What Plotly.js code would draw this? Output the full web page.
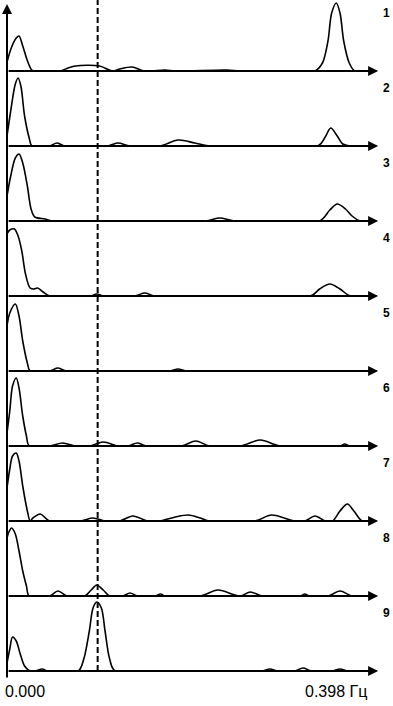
<!DOCTYPE html>
<html><head><meta charset="utf-8">
<script src="https://cdn.plot.ly/plotly-3.0.1.min.js"></script>
<style>html,body{margin:0;padding:0;background:#fff}#chart{width:393px;height:706px}</style>
</head><body><div id="chart"></div>
<script>
// Panel labels (top to bottom)
const panelLabels = ['1','2','3','4','5','6','7','8','9'];

// Spectra: frequency (Hz) and power (relative units) for each panel
const f1 = [0,0.005,0.010,0.013,0.017,0.023,0.028,0.057,0.066,0.074,0.100,0.114,0.122,0.135,0.149,0.171,0.182,0.238,0.252,0.333,0.341,0.347,0.351,0.356,0.360,0.364,0.370,0.376,0.4];
const p1 = [9,24,33,35,25,8,0,0,3,5,5,0,2,4,0,1,0,1,0,0,8,30,58,68,58,30,8,0,0];

const f2 = [0,0.004,0.009,0.012,0.015,0.019,0.024,0.027,0.046,0.054,0.062,0.109,0.120,0.133,0.165,0.185,0.203,0.219,0.336,0.344,0.350,0.357,0.363,0.371,0.4];
const p2 = [10,35,62,68,60,30,8,0,0,3,0,0,3,0,0,6,3,0,0,9,18,10,2,0,0];

const f3 = [0,0.004,0.009,0.013,0.017,0.022,0.026,0.030,0.041,0.049,0.214,0.230,0.246,0.338,0.349,0.357,0.366,0.373,0.382,0.4];
const p3 = [25,45,63,67,58,35,12,4,2,0,0,3,0,0,11,17,12,5,0,0];

const f4 = [0,0.003,0.008,0.012,0.016,0.020,0.025,0.029,0.033,0.039,0.046,0.090,0.097,0.105,0.138,0.149,0.160,0.328,0.338,0.349,0.360,0.371,0.4];
const p4 = [62,66,67,60,45,22,8,7,8,4,0,0,2,0,0,3,0,0,7,12,7,0,0];

const f5 = [0,0.003,0.009,0.013,0.017,0.022,0.025,0.046,0.055,0.064,0.176,0.185,0.194,0.4];
const p5 = [45,58,67,55,30,8,0,0,3,0,0,2,0,0];

const f6 = [0,0.003,0.006,0.010,0.013,0.017,0.021,0.024,0.046,0.060,0.074,0.090,0.104,0.120,0.131,0.141,0.150,0.189,0.204,0.219,0.252,0.274,0.295,0.360,0.365,0.371,0.4];
const p6 = [13,35,60,68,58,30,10,0,0,3,0,0,4,0,0,3,0,0,5,0,0,6,0,0,2,0,0];

const f7 = [0,0.003,0.006,0.010,0.013,0.017,0.022,0.025,0.028,0.036,0.046,0.079,0.093,0.106,0.122,0.136,0.152,0.165,0.182,0.196,0.209,0.219,0.268,0.286,0.311,0.322,0.333,0.344,0.352,0.360,0.368,0.375,0.384,0.4];
const p7 = [33,52,65,68,60,35,10,0,3,7,0,0,3,0,0,5,0,0,4,6,3,0,0,6,0,0,5,0,0,10,17,10,0,0];

const f8 = [0,0.002,0.005,0.009,0.013,0.017,0.021,0.024,0.046,0.055,0.065,0.084,0.091,0.097,0.104,0.111,0.125,0.133,0.141,0.160,0.166,0.171,0.209,0.228,0.252,0.263,0.276,0.317,0.322,0.327,0.347,0.360,0.373,0.4];
const p8 = [58,64,68,62,45,25,10,0,0,5,0,0,6,11,6,0,0,3,0,0,2,0,0,6,0,4,0,0,2,0,0,5,0,0];

const f9 = [0,0.003,0.006,0.010,0.014,0.019,0.025,0.031,0.038,0.044,0.077,0.083,0.089,0.093,0.097,0.102,0.106,0.111,0.117,0.276,0.284,0.293,0.311,0.320,0.329,0.351,0.360,0.369,0.4];
const p9 = [8,22,34,30,18,5,0,0,2,0,0,12,40,63,69,63,40,12,0,0,2,0,0,3,0,0,2,0,0];

// Marked frequency (dashed line) and axis end labels
const markFreq = 0.098;
const freqRange = [0, 0.4];
const tickLabels = ['0.000', '0.398 Гц'];

const freqsAll = [f1,f2,f3,f4,f5,f6,f7,f8,f9];
const powAll = [p1,p2,p3,p4,p5,p6,p7,p8,p9];

const W = 393, H = 706;
const M = {l: 7, r: 16, t: 0, b: 35};
const plotW = W - M.l - M.r;
const plotH = H - M.t - M.b;
const panelH = 75;
const n = panelLabels.length;

const traces = [];
const annotations = [];
const shapes = [];
const layout = {
  width: W, height: H, margin: M,
  paper_bgcolor: '#fff', plot_bgcolor: '#fff',
  showlegend: false,
  xaxis: {range: freqRange, visible: false, fixedrange: true},
  font: {family: 'Liberation Sans, Arial, sans-serif', color: '#000'}
};

for (let i = 0; i < n; i++) {
  const baseFromBottom = (n - 1 - i) * panelH;
  const bot = baseFromBottom / plotH;
  const top = Math.min(1, (baseFromBottom + panelH) / plotH);
  const yr = (top - bot) * plotH;
  const yname = i === 0 ? 'y' : 'y' + (i + 1);
  const ykey = i === 0 ? 'yaxis' : 'yaxis' + (i + 1);
  layout[ykey] = {domain: [bot, top], range: [0, yr], visible: false, fixedrange: true, anchor: 'x'};
  traces.push({
    x: freqsAll[i], y: powAll[i], xaxis: 'x', yaxis: yname,
    mode: 'lines', hoverinfo: 'skip',
    line: {color: '#000', width: 1.6, shape: 'spline', smoothing: 0.9}
  });
  // baseline with arrow
  annotations.push({
    xref: 'paper', x: 1.003, yref: yname, y: 0,
    axref: 'pixel', ayref: 'pixel', ax: -plotW - 1, ay: 0,
    showarrow: true, arrowhead: 2, arrowsize: 1, arrowwidth: 2, arrowcolor: '#000', text: ''
  });
  // panel number
  annotations.push({
    xref: 'paper', x: (386 - M.l) / plotW, yref: yname, y: 58,
    text: panelLabels[i], showarrow: false, xanchor: 'center', yanchor: 'middle',
    font: {size: 12, weight: 'bold', color: '#000'}
  });
}

// left vertical axis with arrow at top
annotations.push({
  xref: 'x', x: 0, yref: 'paper', y: (plotH - 4) / plotH,
  axref: 'pixel', ayref: 'pixel', ax: 0, ay: 675,
  showarrow: true, arrowhead: 2, arrowsize: 1, arrowwidth: 2, arrowcolor: '#000', text: ''
});

// axis end labels
annotations.push({
  xref: 'paper', yref: 'paper', x: (3 - M.l) / plotW, y: -20 / plotH,
  xanchor: 'left', yanchor: 'middle', showarrow: false, text: tickLabels[0],
  font: {size: 16, color: '#000'}
});
annotations.push({
  xref: 'paper', yref: 'paper', x: (369 - M.l) / plotW, y: -20 / plotH,
  xanchor: 'right', yanchor: 'middle', showarrow: false, text: tickLabels[1],
  font: {size: 16, color: '#000'}
});

// dashed marker line
shapes.push({
  type: 'line', xref: 'x', yref: 'paper', x0: markFreq, x1: markFreq, y0: 0, y1: 1,
  line: {color: '#000', width: 2, dash: '6px,3px'}
});

layout.annotations = annotations;
layout.shapes = shapes;

Plotly.newPlot('chart', traces, layout, {staticPlot: true, displayModeBar: false});
</script>
</body></html>
